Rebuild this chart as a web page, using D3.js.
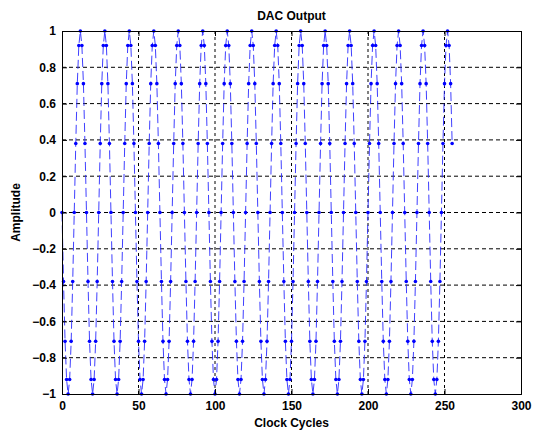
<!DOCTYPE html>
<html>
<head>
<meta charset="utf-8">
<script src="https://cdn.jsdelivr.net/npm/d3@7"></script>
<style>
  body { margin: 0; background: #fff; }
  text { font-family: "Liberation Sans", Arial, sans-serif; }
</style>
</head>
<body>
<div id="chart"></div>
<script>
// DAC output samples, one per clock cycle
var amplitude = [
  0, -0.38, -0.71, -0.92, -1, -0.92, -0.71, -0.38, 0, 0.38, 0.71, 0.92, 1, 0.92, 0.71, 0.38,
  0, -0.38, -0.71, -0.92, -1, -0.92, -0.71, -0.38, 0, 0.38, 0.71, 0.92, 1, 0.92, 0.71, 0.38,
  0, -0.38, -0.71, -0.92, -1, -0.92, -0.71, -0.38, 0, 0.38, 0.71, 0.92, 1, 0.92, 0.71, 0.38,
  0, -0.38, -0.71, -0.92, -1, -0.92, -0.71, -0.38, 0, 0.38, 0.71, 0.92, 1, 0.92, 0.71, 0.38,
  0, -0.38, -0.71, -0.92, -1, -0.92, -0.71, -0.38, 0, 0.38, 0.71, 0.92, 1, 0.92, 0.71, 0.38,
  0, -0.38, -0.71, -0.92, -1, -0.92, -0.71, -0.38, 0, 0.38, 0.71, 0.92, 1, 0.92, 0.71, 0.38,
  0, -0.38, -0.71, -0.92, -1, -0.92, -0.71, -0.38, 0, 0.38, 0.71, 0.92, 1, 0.92, 0.71, 0.38,
  0, -0.38, -0.71, -0.92, -1, -0.92, -0.71, -0.38, 0, 0.38, 0.71, 0.92, 1, 0.92, 0.71, 0.38,
  0, -0.38, -0.71, -0.92, -1, -0.92, -0.71, -0.38, 0, 0.38, 0.71, 0.92, 1, 0.92, 0.71, 0.38,
  0, -0.38, -0.71, -0.92, -1, -0.92, -0.71, -0.38, 0, 0.38, 0.71, 0.92, 1, 0.92, 0.71, 0.38,
  0, -0.38, -0.71, -0.92, -1, -0.92, -0.71, -0.38, 0, 0.38, 0.71, 0.92, 1, 0.92, 0.71, 0.38,
  0, -0.38, -0.71, -0.92, -1, -0.92, -0.71, -0.38, 0, 0.38, 0.71, 0.92, 1, 0.92, 0.71, 0.38,
  0, -0.38, -0.71, -0.92, -1, -0.92, -0.71, -0.38, 0, 0.38, 0.71, 0.92, 1, 0.92, 0.71, 0.38,
  0, -0.38, -0.71, -0.92, -1, -0.92, -0.71, -0.38, 0, 0.38, 0.71, 0.92, 1, 0.92, 0.71, 0.38,
  0, -0.38, -0.71, -0.92, -1, -0.92, -0.71, -0.38, 0, 0.38, 0.71, 0.92, 1, 0.92, 0.71, 0.38,
  0, -0.38, -0.71, -0.92, -1, -0.92, -0.71, -0.38, 0, 0.38, 0.71, 0.92, 1, 0.92, 0.71, 0.38
];

var xTicks = [0, 50, 100, 150, 200, 250, 300];
var yTicks = [-1, -0.8, -0.6, -0.4, -0.2, 0, 0.2, 0.4, 0.6, 0.8, 1];

(function() {
  var width = 538,
      height = 433;
  var margin = {top: 31, right: 17, bottom: 39, left: 62};
  var w = width - margin.left - margin.right,
      h = height - margin.top - margin.bottom;

  var svg = d3.select("#chart")
    .append("svg")
    .attr("width", width)
    .attr("height", height)
    .style("background", "#fff");

  var g = svg.append("g")
    .attr("transform", "translate(" + margin.left + "," + margin.top + ")");

  var x = d3.scaleLinear().domain([0, 300]).range([0, w]);
  var y = d3.scaleLinear().domain([-1, 1]).range([h, 0]);

  // dashed grid, only at the inner ticks
  g.append("g").selectAll("line")
    .data(yTicks.filter(function(d) { return d > -1 && d < 1; }))
    .enter().append("line")
    .attr("x1", 0).attr("x2", w)
    .attr("y1", function(d) { return y(d); })
    .attr("y2", function(d) { return y(d); })
    .attr("stroke", "#000")
    .attr("stroke-dasharray", "4,3");

  g.append("g").selectAll("line")
    .data(xTicks.filter(function(d) { return d > 0 && d < 300; }))
    .enter().append("line")
    .attr("y1", 0).attr("y2", h)
    .attr("x1", function(d) { return x(d); })
    .attr("x2", function(d) { return x(d); })
    .attr("stroke", "#000")
    .attr("stroke-dasharray", "3,3");

  // the signal: dashed blue line with dot markers
  var line = d3.line()
    .x(function(d, i) { return x(i); })
    .y(function(d) { return y(d); });

  g.append("path")
    .datum(amplitude)
    .attr("d", line)
    .attr("fill", "none")
    .attr("stroke", "#2a2aff")
    .attr("stroke-width", 0.9)
    .attr("stroke-dasharray", "9,4");

  g.append("g").selectAll("circle")
    .data(amplitude)
    .enter().append("circle")
    .attr("cx", function(d, i) { return x(i); })
    .attr("cy", function(d) { return y(d); })
    .attr("r", 1.8)
    .attr("fill", "#0000ff");

  // axes, ticks pointing inwards like matlab
  var fmt = function(d) { return d3.format("")(+d.toFixed(1)); };

  g.append("g")
    .attr("transform", "translate(0," + h + ")")
    .call(d3.axisBottom(x).tickValues(xTicks).tickSize(-5).tickPadding(7));
  g.append("g")
    .call(d3.axisLeft(y).tickValues(yTicks).tickSize(-5).tickPadding(6).tickFormat(fmt));
  g.append("g")
    .call(d3.axisTop(x).tickValues(xTicks).tickSize(-5).tickFormat(""));
  g.append("g")
    .attr("transform", "translate(" + w + ",0)")
    .call(d3.axisRight(y).tickValues(yTicks).tickSize(-5).tickFormat(""));

  g.selectAll(".domain").attr("stroke", "#000");
  g.selectAll(".tick line").attr("stroke", "#000");
  g.selectAll(".tick text")
    .attr("fill", "#000")
    .style("font-size", "12px")
    .style("font-weight", "bold");

  svg.append("text")
    .attr("x", margin.left + w / 2)
    .attr("y", 20)
    .attr("text-anchor", "middle")
    .style("font-size", "12px")
    .style("font-weight", "bold")
    .text("DAC Output");

  svg.append("text")
    .attr("x", margin.left + w / 2)
    .attr("y", 427)
    .attr("text-anchor", "middle")
    .style("font-size", "12px")
    .style("font-weight", "bold")
    .text("Clock Cycles");

  svg.append("text")
    .attr("transform", "translate(20," + (margin.top + h / 2) + ") rotate(-90)")
    .attr("text-anchor", "middle")
    .style("font-size", "12px")
    .style("font-weight", "bold")
    .text("Amplitude");
})();
</script>
</body>
</html>
